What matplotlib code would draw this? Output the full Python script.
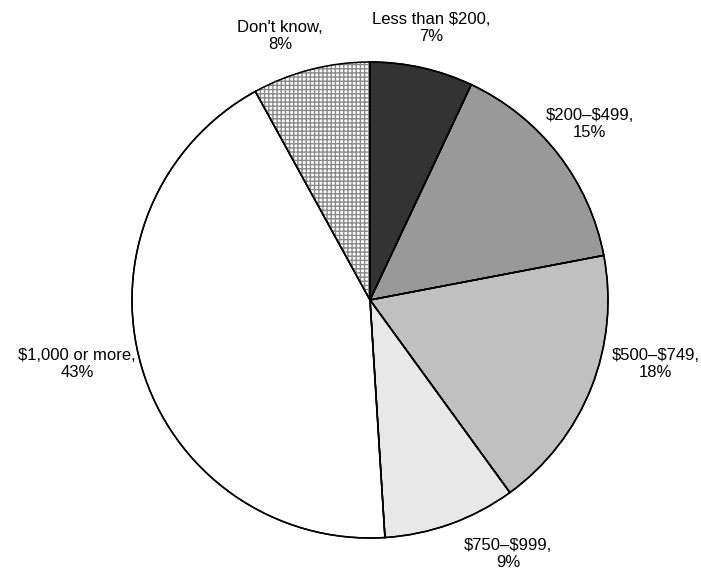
import matplotlib.pyplot as plt

plt.rcParams['font.family'] = ['Liberation Sans', 'DejaVu Sans']

labels = ['Less than $200', '$200–$499', '$500–$749', '$750–$999', '$1,000 or more', "Don't know"]
shares = [7, 15, 18, 9, 43, 8]
colors = ['#333333', '#999999', '#c0c0c0', '#e8e8e8', '#ffffff', '#ffffff']
# label centres, in units of the pie radius
label_pos = [(0.255, 1.143), (0.924, 0.74), (1.20, -0.27), (0.58, -1.067), (-1.231, -0.27), (-0.378, 1.11)]

fig = plt.figure(figsize=(7.01, 5.75), dpi=100)
ax = fig.add_axes([(370 - 238) / 701, (575 - 300 - 238) / 575, 476 / 701, 476 / 575])

wedges, _ = ax.pie(shares, colors=colors, startangle=90, counterclock=False,
                   wedgeprops=dict(edgecolor='black', linewidth=1.1))
wedges[5].set_hatch('++++')
wedges[5].set_edgecolor('#8a8a8a')
wedges[5].set_linewidth(0.6)

# black outlines on top
ax.pie(shares, colors=['none'] * 6, startangle=90, counterclock=False,
       wedgeprops=dict(edgecolor='black', linewidth=1.1, fill=False))

for lab, s, (x, y) in zip(labels, shares, label_pos):
    ax.text(x, y, f'{lab},\n{s}%', ha='center', va='center', fontsize=12,
            linespacing=1.15, clip_on=False, parse_math=False)

ax.set_xlim(-1, 1)
ax.set_ylim(-1, 1)
ax.set_aspect('equal')
ax.axis('off')

fig.savefig('out.png', dpi=100)
